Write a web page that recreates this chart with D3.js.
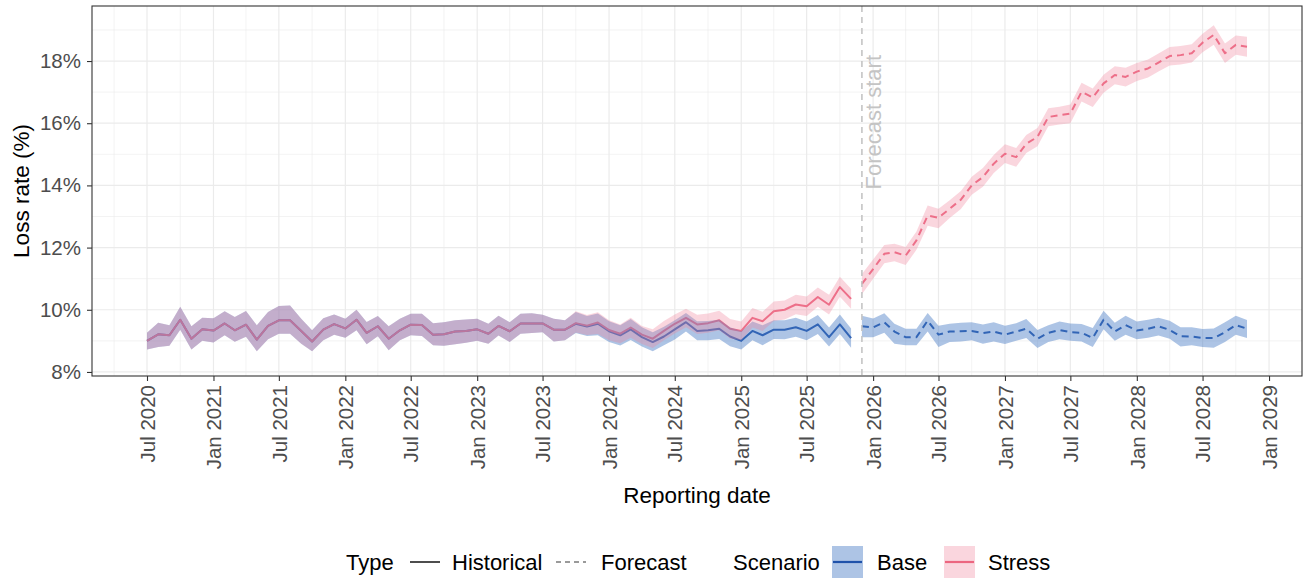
<!DOCTYPE html>
<html><head><meta charset="utf-8">
<script src="https://cdn.jsdelivr.net/npm/d3@7"></script>
<style>html,body{margin:0;padding:0;background:#fff;} svg{display:block;font-family:"Liberation Sans",Arial,sans-serif;}</style>
</head><body>
<svg id="chart" width="1309" height="579"></svg>
<script>
// ---------------- DATA ----------------
const firstMonth = "2020-07-01";
const lastMonth = "2028-11-01";
const forecastStartDate = "2025-12-01";
const xTickLabels = ["Jul 2020","Jan 2021","Jul 2021","Jan 2022","Jul 2022","Jan 2023","Jul 2023","Jan 2024","Jul 2024","Jan 2025","Jul 2025","Jan 2026","Jul 2026","Jan 2027","Jul 2027","Jan 2028","Jul 2028","Jan 2029"];
const yTicks = [8,10,12,14,16,18];
const scenarios = ["Base","Stress"];
const types = ["Historical","Forecast"];

// Historical (Jul 2020 .. Nov 2025)
const baseHist = [9.00,9.21,9.18,9.68,9.07,9.37,9.33,9.56,9.34,9.52, 9.04,9.48,9.66,9.66,9.32,8.98,9.36,9.54,9.40,9.68, 9.26,9.47,9.07,9.34,9.52,9.51,9.20,9.21,9.30,9.32, 9.37,9.23,9.48,9.31,9.56,9.56,9.56,9.36,9.36,9.55, 9.46,9.55,9.31,9.18,9.37,9.12,8.96,9.14,9.37,9.60, 9.32,9.34,9.39,9.14,9.00,9.32,9.18,9.36,9.36,9.44, 9.32,9.53,9.12,9.53,9.09];
const baseHistLo = [8.72,8.80,8.84,9.36,8.72,9.00,8.95,9.18,8.97,9.13, 8.67,9.05,9.23,9.23,8.91,8.67,9.02,9.20,9.10,9.34, 8.89,9.15,8.70,9.02,9.18,9.16,8.86,8.84,8.89,8.94, 9.00,8.91,9.17,8.96,9.23,9.25,9.28,8.98,9.02,9.25, 9.16,9.18,8.96,8.85,9.03,8.82,8.67,8.86,9.04,9.30, 9.02,9.02,9.06,8.83,8.72,9.02,8.86,9.06,9.05,9.13, 9.02,9.22,8.82,9.22,8.78];
const baseHistHi = [9.26,9.58,9.50,10.10,9.47,9.74,9.73,9.95,9.77,9.96, 9.50,9.93,10.12,10.14,9.71,9.34,9.73,9.85,9.71,10.00, 9.61,9.80,9.47,9.71,9.87,9.87,9.57,9.60,9.66,9.69, 9.71,9.55,9.81,9.60,9.87,9.89,9.84,9.71,9.66,9.93, 9.80,9.88,9.63,9.50,9.70,9.44,9.28,9.45,9.66,9.90, 9.63,9.64,9.68,9.44,9.31,9.62,9.50,9.66,9.66,9.74, 9.62,9.83,9.43,9.85,9.40];
const stressHist = [9.00,9.21,9.18,9.68,9.07,9.37,9.33,9.56,9.34,9.52, 9.04,9.48,9.66,9.66,9.32,8.98,9.36,9.54,9.40,9.68, 9.26,9.47,9.07,9.34,9.52,9.51,9.20,9.21,9.30,9.32, 9.37,9.23,9.48,9.31,9.56,9.56,9.56,9.36,9.36,9.57, 9.49,9.59,9.35,9.23,9.43,9.20,9.07,9.32,9.55,9.74, 9.53,9.57,9.66,9.39,9.32,9.74,9.63,9.95,10.00,10.17, 10.11,10.41,10.16,10.73,10.35];
const stressHistLo = [8.72,8.80,8.84,9.36,8.72,9.00,8.95,9.18,8.97,9.13, 8.67,9.05,9.23,9.23,8.91,8.67,9.02,9.20,9.10,9.34, 8.89,9.15,8.70,9.02,9.18,9.16,8.86,8.84,8.89,8.94, 9.00,8.91,9.17,8.96,9.23,9.25,9.28,8.98,9.02,9.27, 9.19,9.22,9.02,8.92,9.10,8.90,8.77,9.02,9.24,9.44, 9.22,9.26,9.34,9.08,9.02,9.43,9.32,9.64,9.69,9.86, 9.80,10.10,9.85,10.42,10.03];
const stressHistHi = [9.26,9.58,9.50,10.10,9.47,9.74,9.73,9.95,9.77,9.96, 9.50,9.93,10.12,10.14,9.71,9.34,9.73,9.85,9.71,10.00, 9.61,9.80,9.47,9.71,9.87,9.87,9.57,9.60,9.66,9.69, 9.71,9.55,9.81,9.60,9.87,9.89,9.84,9.71,9.66,9.95, 9.83,9.92,9.66,9.53,9.74,9.48,9.37,9.64,9.85,10.03, 9.84,9.88,9.97,9.70,9.62,10.06,9.94,10.27,10.30,10.48, 10.43,10.72,10.48,11.06,10.68];

// Forecast (Dec 2025 .. Nov 2028)
const baseFc = [9.47,9.43,9.60,9.30,9.12,9.12,9.65,9.20,9.30,9.31, 9.32,9.25,9.30,9.20,9.30,9.39,9.07,9.26,9.35,9.28, 9.26,9.09,9.68,9.30,9.51,9.33,9.39,9.47,9.35,9.15, 9.14,9.09,9.09,9.28,9.51,9.39];
const baseFcLo = [9.12,9.12,9.26,8.91,8.86,8.86,9.30,8.80,8.96,8.98, 9.02,8.91,8.98,8.90,9.00,9.09,8.77,8.96,9.05,9.00, 8.98,8.80,9.37,9.00,9.20,9.05,9.10,9.17,9.07,8.82, 8.86,8.80,8.78,8.96,9.20,9.09];
const baseFcHi = [9.81,9.72,9.89,9.55,9.39,9.39,9.90,9.49,9.55,9.58, 9.60,9.53,9.60,9.49,9.57,9.70,9.35,9.50,9.62,9.56, 9.54,9.41,9.97,9.58,9.81,9.62,9.68,9.74,9.65,9.44, 9.44,9.38,9.40,9.60,9.81,9.67];
const stressFc = [10.83,11.31,11.80,11.85,11.74,12.23,13.03,12.96,13.25,13.54, 14.00,14.27,14.70,15.02,14.91,15.34,15.56,16.20,16.26,16.31, 17.01,16.83,17.28,17.55,17.49,17.66,17.76,17.95,18.16,18.19, 18.25,18.59,18.84,18.25,18.52,18.46];
const stressFcLo = [10.50,11.00,11.50,11.56,11.44,11.93,12.70,12.62,12.95,13.24, 13.70,13.96,14.40,14.72,14.60,15.04,15.26,15.90,15.96,16.00, 16.70,16.52,16.98,17.25,17.18,17.36,17.47,17.66,17.86,17.89, 17.95,18.28,18.52,17.94,18.20,18.14];
const stressFcHi = [11.15,11.62,12.08,12.12,12.02,12.52,13.35,13.25,13.52,13.82, 14.28,14.56,14.98,15.32,15.20,15.62,15.85,16.48,16.53,16.60, 17.30,17.12,17.56,17.83,17.78,17.94,18.05,18.24,18.45,18.48, 18.54,18.88,19.15,18.56,18.82,18.78];

// ---------------- STYLE / LAYOUT ----------------
const W = 1309, H = 579;
const panel = {left: 92, right: 1302, top: 6, bottom: 376};
const colors = {Base: {line: "#1f52aa", fill: "#4a7cc6", fillOp: 0.45}, Stress: {line: "#ec6680", fill: "#f0829a", fillOp: 0.33}};
const tickFont = 20.5, titleFont = 22.5, legendFont = 22;
const parse = d3.timeParse("%Y-%m-%d");
const months = d3.timeMonth.range(parse(firstMonth), d3.timeMonth.offset(parse(lastMonth), 1));
const nHist = baseHist.length;
const histDates = months.slice(0, nHist);
const fcDates = months.slice(nHist);

const svg = d3.select("#chart");
svg.append("rect").attr("width", W).attr("height", H).attr("fill", "#fff");

// scales
const t0 = parse(firstMonth).getTime(), t1 = parse(lastMonth).getTime();
const ex = (t1 - t0) * 0.05;
const x = d3.scaleTime().domain([new Date(t0 - ex), new Date(t1 + ex)]).range([panel.left, panel.right]);
const y = d3.scaleLinear().domain([7.87, 19.77]).range([panel.bottom, panel.top]);

const tickDates = xTickLabels.map(d3.timeParse("%b %Y"));
const fmtPct = d => d + "%";

// grid
const g = svg.append("g");
const minorX = [];
for (let i = 0; i < tickDates.length; i++) {
  const m = d3.timeMonth.offset(tickDates[i], -3);
  if (x(m) > panel.left) minorX.push(m);
}
const lastMinor = d3.timeMonth.offset(tickDates[tickDates.length-1], 3);
if (x(lastMinor) < panel.right - 1) minorX.push(lastMinor);
const minorY = [9,11,13,15,17,19];
g.selectAll(".mx").data(minorX).join("line").attr("x1", d => x(d)).attr("x2", d => x(d)).attr("y1", panel.top).attr("y2", panel.bottom).attr("stroke", "#ebebeb").attr("stroke-width", 0.6);
g.selectAll(".my").data(minorY).join("line").attr("x1", panel.left).attr("x2", panel.right).attr("y1", d => y(d)).attr("y2", d => y(d)).attr("stroke", "#ebebeb").attr("stroke-width", 0.6);
g.selectAll(".Mx").data(tickDates).join("line").attr("x1", d => x(d)).attr("x2", d => x(d)).attr("y1", panel.top).attr("y2", panel.bottom).attr("stroke", "#ebebeb").attr("stroke-width", 1.2);
g.selectAll(".My").data(yTicks).join("line").attr("x1", panel.left).attr("x2", panel.right).attr("y1", d => y(d)).attr("y2", d => y(d)).attr("stroke", "#ebebeb").attr("stroke-width", 1.2);

// series
function series(dates, mean, lo, hi) { return dates.map((d, i) => ({d, m: mean[i], lo: lo[i], hi: hi[i]})); }
const groups = [
  {sc: "Base", type: "Historical", data: series(histDates, baseHist, baseHistLo, baseHistHi)},
  {sc: "Base", type: "Forecast", data: series(fcDates, baseFc, baseFcLo, baseFcHi)},
  {sc: "Stress", type: "Historical", data: series(histDates, stressHist, stressHistLo, stressHistHi)},
  {sc: "Stress", type: "Forecast", data: series(fcDates, stressFc, stressFcLo, stressFcHi)}
];
const line = d3.line().x(p => x(p.d)).y(p => y(p.m));
const area = d3.area().x(p => x(p.d)).y0(p => y(p.lo)).y1(p => y(p.hi));
const plot = svg.append("g");
groups.forEach(gr => {
  plot.append("path").attr("d", line(gr.data)).attr("fill", "none")
    .attr("stroke", colors[gr.sc].line).attr("stroke-width", 2)
    .attr("stroke-dasharray", gr.type === "Forecast" ? "7,5" : null)
    .attr("stroke-linejoin", "round");
});
["Base", "Stress"].forEach(sc => {
  groups.filter(gr => gr.sc === sc).forEach(gr => {
    plot.append("path").attr("d", area(gr.data)).attr("fill", colors[sc].fill).attr("fill-opacity", colors[sc].fillOp);
  });
});

// forecast start marker
const fx = x(parse(forecastStartDate));
plot.append("line").attr("x1", fx).attr("x2", fx).attr("y1", panel.top).attr("y2", panel.bottom)
  .attr("stroke", "#c4c4c4").attr("stroke-width", 1.6).attr("stroke-dasharray", "6,5");
plot.append("text").attr("transform", `translate(${fx + 19},${55}) rotate(-90)`)
  .attr("text-anchor", "end").attr("font-size", 22).attr("fill", "#c4c4c4").text("Forecast start");

// panel border
svg.append("rect").attr("x", panel.left).attr("y", panel.top).attr("width", panel.right - panel.left).attr("height", panel.bottom - panel.top)
  .attr("fill", "none").attr("stroke", "#333").attr("stroke-width", 1.1);

// axes
const xAxis = d3.axisBottom(x).tickValues(tickDates).tickFormat(d3.timeFormat("%b %Y")).tickSize(5).tickPadding(4);
const gx = svg.append("g").attr("transform", `translate(0,${panel.bottom})`).call(xAxis);
gx.select(".domain").remove();
gx.selectAll(".tick line").attr("stroke", "#333").attr("stroke-width", 1.1);
gx.selectAll(".tick text").attr("font-size", tickFont).attr("fill", "#4d4d4d").attr("font-family", "Liberation Sans, Arial, sans-serif")
  .attr("text-anchor", "end").attr("transform", "rotate(-90)").attr("x", -9).attr("y", 0).attr("dy", "0.35em");

const yAxis = d3.axisLeft(y).tickValues(yTicks).tickFormat(fmtPct).tickSize(5).tickPadding(6);
const gy = svg.append("g").attr("transform", `translate(${panel.left},0)`).call(yAxis);
gy.select(".domain").remove();
gy.selectAll(".tick line").attr("stroke", "#333").attr("stroke-width", 1.1);
gy.selectAll(".tick text").attr("font-size", tickFont).attr("fill", "#4d4d4d").attr("font-family", "Liberation Sans, Arial, sans-serif");

// axis titles
svg.append("text").attr("x", (panel.left + panel.right) / 2).attr("y", 503).attr("text-anchor", "middle")
  .attr("font-size", titleFont).attr("fill", "#000").text("Reporting date");
svg.append("text").attr("transform", `translate(29,${(panel.top + panel.bottom) / 2}) rotate(-90)`).attr("text-anchor", "middle")
  .attr("font-size", titleFont).attr("fill", "#000").text("Loss rate (%)");

// legend
const ly = 562;
const leg = svg.append("g").attr("font-size", legendFont).attr("fill", "#000");
leg.append("text").attr("x", 346).attr("y", ly).attr("dy", "0.35em").text("Type");
const typeKeys = [{t: types[0], kx: 409, tx: 452, dash: null, col: "#4d4d4d"}, {t: types[1], kx: 555, tx: 601, dash: "5,4", col: "#9a9a9a"}];
typeKeys.forEach(k => {
  leg.append("line").attr("x1", k.kx + 1).attr("x2", k.kx + 31).attr("y1", ly).attr("y2", ly).attr("stroke", k.col).attr("stroke-width", 2).attr("stroke-dasharray", k.dash);
  leg.append("text").attr("x", k.tx).attr("y", ly).attr("dy", "0.35em").text(k.t);
});
leg.append("text").attr("x", 733).attr("y", ly).attr("dy", "0.35em").text("Scenario");
const scKeys = [{s: scenarios[0], kx: 832, tx: 877}, {s: scenarios[1], kx: 944, tx: 988}];
scKeys.forEach(k => {
  leg.append("rect").attr("x", k.kx).attr("y", ly - 16).attr("width", 31).attr("height", 32).attr("fill", colors[k.s].fill).attr("fill-opacity", colors[k.s].fillOp);
  leg.append("line").attr("x1", k.kx + 1).attr("x2", k.kx + 30).attr("y1", ly).attr("y2", ly).attr("stroke", colors[k.s].line).attr("stroke-width", 2.2);
  leg.append("text").attr("x", k.tx).attr("y", ly).attr("dy", "0.35em").text(k.s);
});
</script>
</body></html>
